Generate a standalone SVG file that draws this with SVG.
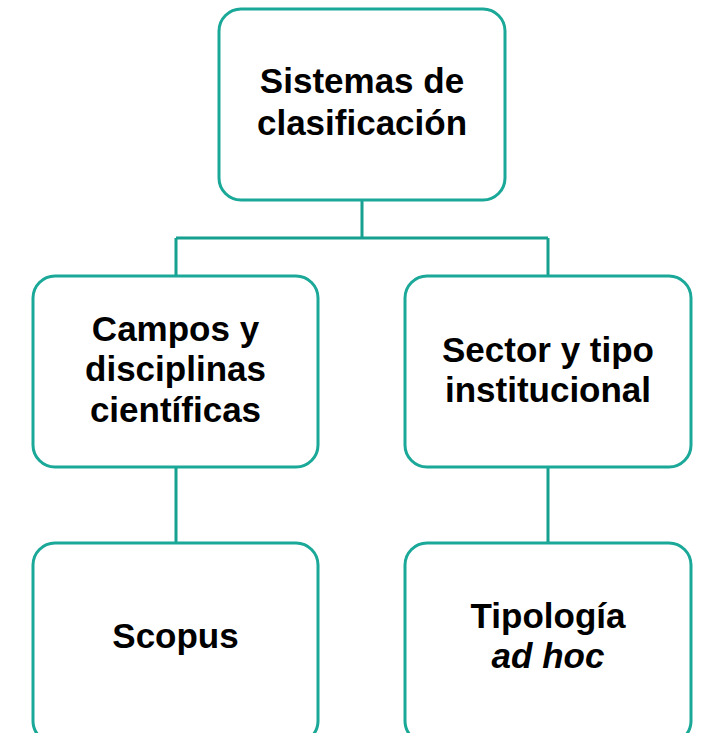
<svg xmlns="http://www.w3.org/2000/svg" width="703" height="733" viewBox="0 0 703 733">
<style>
.box{fill:#ffffff;stroke:#1aa898;stroke-width:3}
.conn{fill:none;stroke:#15a090;stroke-width:3}
.t{font-family:"Liberation Sans",Arial,sans-serif;font-weight:bold;font-size:35px;fill:#000;text-anchor:middle}
.i{font-style:italic}
</style>
<rect width="703" height="733" fill="#ffffff"/>
<g id="connectors">
<path class="conn" d="M362 200 V238 M176 238 H548 M176 238 V276 M548 238 V276"/>
<path class="conn" d="M176 467 V543 M548 467 V543"/>
</g>
<g id="n-root">
<rect class="box" x="219" y="9" width="286" height="191" rx="22"/>
<text class="t" x="362" y="93">Sistemas de</text>
<text class="t" x="362" y="135">clasificación</text>
</g>
<g id="n-campos">
<rect class="box" x="33" y="276" width="285" height="191" rx="22"/>
<text class="t" x="175.5" y="341">Campos y</text>
<text class="t" x="175.5" y="381">disciplinas</text>
<text class="t" x="175.5" y="422">científicas</text>
</g>
<g id="n-sector">
<rect class="box" x="405" y="276" width="286" height="191" rx="22"/>
<text class="t" x="548" y="362">Sector y tipo</text>
<text class="t" x="548" y="402">institucional</text>
</g>
<g id="n-scopus">
<rect class="box" x="33" y="543" width="285" height="200" rx="22"/>
<text class="t" x="175.5" y="648">Scopus</text>
</g>
<g id="n-tipologia">
<rect class="box" x="405" y="543" width="286" height="200" rx="22"/>
<text class="t" x="548" y="628">Tipología</text>
<text class="t i" x="548" y="668">ad hoc</text>
</g>
</svg>
